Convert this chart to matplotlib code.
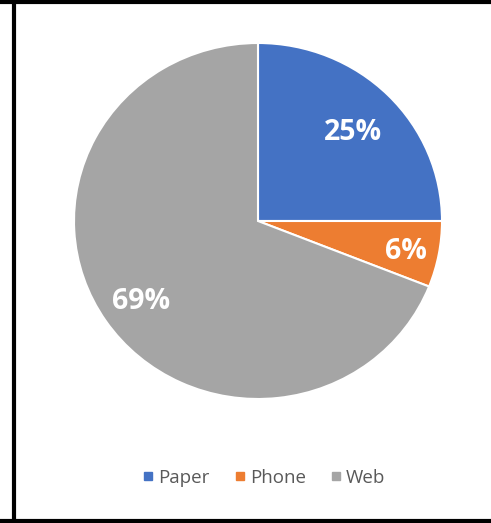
import numpy as np
import matplotlib.pyplot as plt
from matplotlib.lines import Line2D

# Данные
labels = ['Paper', 'Phone', 'Web']
values = [25, 6, 69]
colors = ['#4472C4', '#ED7D31', '#A5A5A5']
label_dist = [0.73, 0.82, 0.77]

plt.rcParams['font.family'] = ['Open Sans', 'DejaVu Sans']

fig = plt.figure(figsize=(4.91, 5.23), dpi=100)
fig.patch.set_facecolor('white')

# оси под круг (картинка слегка растянута по горизонтали)
W, H = 491, 523
ax = fig.add_axes([74 / W, 1 - 399 / H, 368 / W, 356 / H])
wedges, _ = ax.pie(values, colors=colors, startangle=90, counterclock=False,
                   wedgeprops={'edgecolor': 'white', 'linewidth': 1.5})
ax.set_aspect('auto')
ax.set_xlim(-1, 1)
ax.set_ylim(-1, 1)

# подписи процентов
for w, v, d in zip(wedges, values, label_dist):
    ang = np.deg2rad((w.theta1 + w.theta2) / 2)
    ax.text(d * np.cos(ang), d * np.sin(ang), f'{v}%', ha='center', va='center_baseline',
            color='white', fontsize=20.5, fontweight='bold')

# легенда
handles = [Line2D([], [], marker='s', linestyle='none', markersize=6,
                  markerfacecolor=c, markeredgecolor=c) for c in colors]
leg = fig.legend(handles, labels, loc='center', bbox_to_anchor=(262 / W, 1 - 478 / H),
                 ncol=3, frameon=False, fontsize=13.5, handletextpad=0.05,
                 columnspacing=1.1, handlelength=1.0)
for t in leg.get_texts():
    t.set_color('#595959')

# рамка (левая, верхняя, нижняя)
lw = 3
fig.add_artist(Line2D([14 / W, 14 / W], [0, 1], color='black', linewidth=lw,
                      transform=fig.transFigure))
fig.add_artist(Line2D([0, 1], [1 - 2 / H, 1 - 2 / H], color='black', linewidth=lw,
                      transform=fig.transFigure))
fig.add_artist(Line2D([0, 1], [2 / H, 2 / H], color='black', linewidth=lw,
                      transform=fig.transFigure))

plt.savefig('out.png', dpi=100)
